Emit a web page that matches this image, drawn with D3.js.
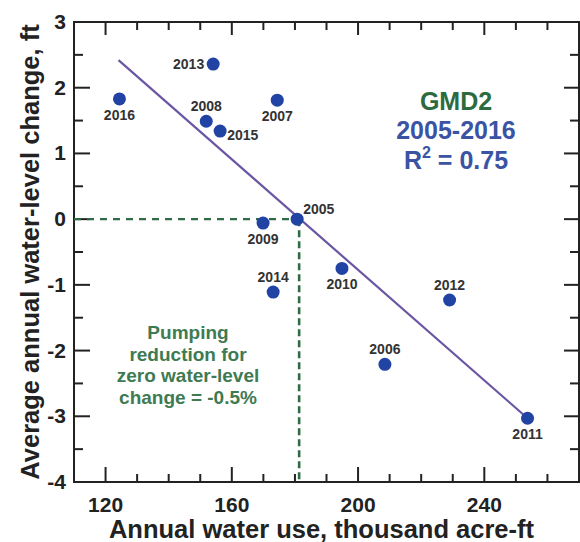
<!DOCTYPE html>
<html>
<head>
<meta charset="utf-8" />
<script src="https://d3js.org/d3.v7.min.js"></script>
<style>
body{
    margin:0;
    background:#fff;
}
svg text{
    font-family:"Liberation Sans", Arial, sans-serif;
    font-weight:bold;
}
</style>
</head>
<body>
<svg id="chart" width="580" height="542"></svg>
<script>
// données
var years = ["2005","2006","2007","2008","2009","2010","2011","2012","2013","2014","2015","2016"];
var waterUse = [180.7, 208.5, 174.4, 151.9, 169.9, 194.9, 253.7, 229.0, 154.1, 173.1, 156.3, 124.4];
var levelChange = [0.0, -2.21, 1.81, 1.49, -0.06, -0.75, -3.03, -1.23, 2.36, -1.11, 1.34, 1.83];
// position de l'étiquette : below, above, left, right, topright
var labelPos = ["topright","above","below","above","below","below","below","above","left","above","right","below"];
var fitLine = [[124.1, 2.42], [253.7, -3.03]];
var xTicks = [120, 160, 200, 240];
var yTicks = [3, 2, 1, 0, -1, -2, -3, -4];
var infoLines = ["GMD2", "2005-2016", "R2 = 0.75"];
var noteLines = ["Pumping", "reduction for", "zero water-level", "change = -0.5%"];

var margin = {top: 22, right: 1, bottom: 60, left: 74},
    width = 580 - margin.left - margin.right,
    height = 542 - margin.top - margin.bottom;

var svg = d3.select("#chart")
    .append("g")
    .attr("transform", "translate(" + margin.left + "," + margin.top + ")");

var x = d3.scaleLinear().domain([110, 270]).range([0, width]);
var y = d3.scaleLinear().domain([-4, 3]).range([height, 0]);

var minorX = d3.range(120, 270, 10);
var minorY = d3.range(-3.5, 3, 0.5);

// cadre
svg.append("rect")
    .attr("width", width).attr("height", height)
    .attr("fill", "none").attr("stroke", "#222").attr("stroke-width", 2);

// graduations
function isMajorX(v){ return v % 40 == 0; }
function isMajorY(v){ return v % 1 == 0; }

svg.selectAll(".tb").data(minorX).enter().append("line")
    .attr("x1", d => x(d)).attr("x2", d => x(d))
    .attr("y1", height).attr("y2", d => height - (isMajorX(d) ? 15 : 8))
    .attr("stroke", "#222").attr("stroke-width", 2);
svg.selectAll(".tt").data(minorX).enter().append("line")
    .attr("x1", d => x(d)).attr("x2", d => x(d))
    .attr("y1", 0).attr("y2", d => isMajorX(d) ? 13 : 8)
    .attr("stroke", "#222").attr("stroke-width", 2);
svg.selectAll(".tl").data(minorY).enter().append("line")
    .attr("y1", d => y(d)).attr("y2", d => y(d))
    .attr("x1", 0).attr("x2", d => isMajorY(d) ? 16 : 9)
    .attr("stroke", "#222").attr("stroke-width", 2);
svg.selectAll(".tr").data(minorY).enter().append("line")
    .attr("y1", d => y(d)).attr("y2", d => y(d))
    .attr("x1", width).attr("x2", d => width - (isMajorY(d) ? 15 : 9))
    .attr("stroke", "#222").attr("stroke-width", 2);

svg.selectAll(".xl").data(xTicks).enter().append("text")
    .attr("x", d => x(d)).attr("y", height + 30)
    .attr("text-anchor", "middle").attr("font-size", 21).attr("fill", "#222")
    .text(d => d);
svg.selectAll(".yl").data(yTicks).enter().append("text")
    .attr("x", -8).attr("y", d => y(d) + 7)
    .attr("text-anchor", "end").attr("font-size", 21).attr("fill", "#222")
    .text(d => d);

// titres des axes
svg.append("text")
    .attr("x", width / 2 - 5).attr("y", height + 56)
    .attr("text-anchor", "middle").attr("font-size", 25.5).attr("fill", "#222")
    .text("Annual water use, thousand acre-ft");
svg.append("text")
    .attr("transform", "translate(-35," + (height / 2 + 0) + ") rotate(-90)")
    .attr("text-anchor", "middle").attr("font-size", 25.5).attr("fill", "#222")
    .text("Average annual water-level change, ft");

// lignes pointillées
var p0 = [waterUse[0], levelChange[0]];
svg.append("line")
    .attr("x1", 0).attr("x2", x(p0[0]))
    .attr("y1", y(p0[1])).attr("y2", y(p0[1]))
    .attr("stroke", "#2f6b45").attr("stroke-width", 2.2).attr("stroke-dasharray", "7,6");
svg.append("line")
    .attr("x1", x(p0[0]) + 2).attr("x2", x(p0[0]) + 2)
    .attr("y1", y(p0[1])).attr("y2", height)
    .attr("stroke", "#2f6b45").attr("stroke-width", 2.6).attr("stroke-dasharray", "7,4");

// droite de régression
svg.append("line")
    .attr("x1", x(fitLine[0][0])).attr("y1", y(fitLine[0][1]))
    .attr("x2", x(fitLine[1][0])).attr("y2", y(fitLine[1][1]))
    .attr("stroke", "#6a55a3").attr("stroke-width", 2.2);

// points
svg.selectAll("circle").data(years).enter().append("circle")
    .attr("cx", (d, i) => x(waterUse[i]))
    .attr("cy", (d, i) => y(levelChange[i]))
    .attr("r", 6.5)
    .attr("fill", "#2143a3");

// étiquettes des années
svg.selectAll(".yr").data(years).enter().append("text")
    .attr("font-size", 14).attr("fill", "#333")
    .attr("text-anchor", (d, i) => labelPos[i] == "left" ? "end" : (labelPos[i] == "right" || labelPos[i] == "topright") ? "start" : "middle")
    .attr("x", function(d, i){
        var px = x(waterUse[i]);
        if (labelPos[i] == "left") return px - 9;
        if (labelPos[i] == "right") return px + 7;
        if (labelPos[i] == "topright") return px + 6;
        return px;
    })
    .attr("y", function(d, i){
        var py = y(levelChange[i]);
        if (labelPos[i] == "above") return py - 10;
        if (labelPos[i] == "below") return py + 21;
        if (labelPos[i] == "topright") return py - 5;
        if (labelPos[i] == "right") return py + 9;
        return py + 5;
    })
    .text(d => d);

// encadré
var info = svg.append("g").attr("transform", "translate(" + (456 - margin.left) + ",0)");
info.append("text").attr("y", 88).attr("text-anchor", "middle")
    .attr("font-size", 25).attr("fill", "#2c6a3f").text(infoLines[0]);
info.append("text").attr("y", 117).attr("text-anchor", "middle")
    .attr("font-size", 25).attr("fill", "#3a53a4").text(infoLines[1]);
var r2 = info.append("text").attr("y", 147).attr("text-anchor", "middle")
    .attr("font-size", 25).attr("fill", "#3a53a4");
r2.append("tspan").text("R");
r2.append("tspan").attr("font-size", 16).attr("dy", -11).text("2");
r2.append("tspan").attr("dy", 11).text(" = 0.75");

// note
svg.selectAll(".note").data(noteLines).enter().append("text")
    .attr("x", 188 - margin.left)
    .attr("y", (d, i) => 339 - margin.top + i * 21.5)
    .attr("text-anchor", "middle").attr("font-size", 19).attr("fill", "#3e7a52")
    .text(d => d);
</script>
</body>
</html>
